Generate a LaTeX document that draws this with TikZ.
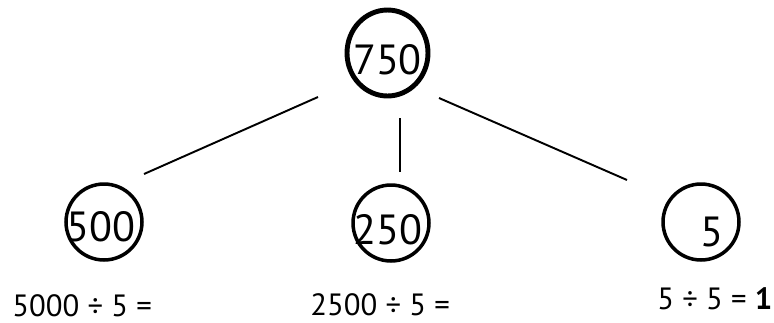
\documentclass[tikz,border=0pt]{standalone}
\usepackage{fontspec}
\setmainfont{PT Sans}
\usetikzlibrary{positioning, shapes.geometric}

\begin{document}
\begin{tikzpicture}[x=0.02cm, y=-0.02cm,
	% Gaya untuk lingkaran angka
	ring/.style={
		circle,
		draw,
		line width=2pt,
		inner sep=0pt,
		minimum size=1.52cm
	},
	topring/.style={
		ellipse,
		draw,
		line width=2.8pt,
		inner sep=0pt,
		minimum width=1.62cm,
		minimum height=1.72cm
	},
	numtext/.style={
		font=\fontsize{24}{24}\selectfont,
		inner sep=0pt
	},
	% Gaya untuk soal pembagian
	sum/.style={
		font=\fontsize{17.5}{17.5}\selectfont,
		anchor=base west,
		inner sep=0pt
	},
	% Gaya untuk garis penghubung
	link/.style={
		line width=1.1pt
	}
	]
	\useasboundingbox (0,0) rectangle (774,322);
	
	% Lingkaran angka
	\node[topring, label={[numtext, shift={(0,7)}]center:750}] (n750) at (387.5,53) {};
	\node[ring, label={[numtext, shift={(-3,5)}]center:500}] (n500) at (104,222) {};
	\node[ring, label={[numtext, shift={(-3,7)}]center:250}] (n250) at (391,223) {};
	\node[ring, label={[numtext, shift={(11,10)}]center:5}] (n5) at (701,222) {};
	
	% Ujung garis
	\coordinate (a1) at (318,97);
	\coordinate (b1) at (144,174);
	\coordinate (a2) at (400,118);
	\coordinate (b2) at (400,172);
	\coordinate (a3) at (439,98);
	\coordinate (b3) at (627,180);
	
	\draw[link] (a1) -- (b1);
	\draw[link] (a2) -- (b2);
	\draw[link] (a3) -- (b3);
	
	% Soal pembagian
	\node[sum] (s500) at (12,316) {5000 ÷ 5 =};
	\node[sum] (s250) at (310,315) {2500 ÷ 5 =};
	\node[sum] (s5) at (657,309) {5 ÷ 5 = \textbf{1}};
	
\end{tikzpicture}
\end{document}
